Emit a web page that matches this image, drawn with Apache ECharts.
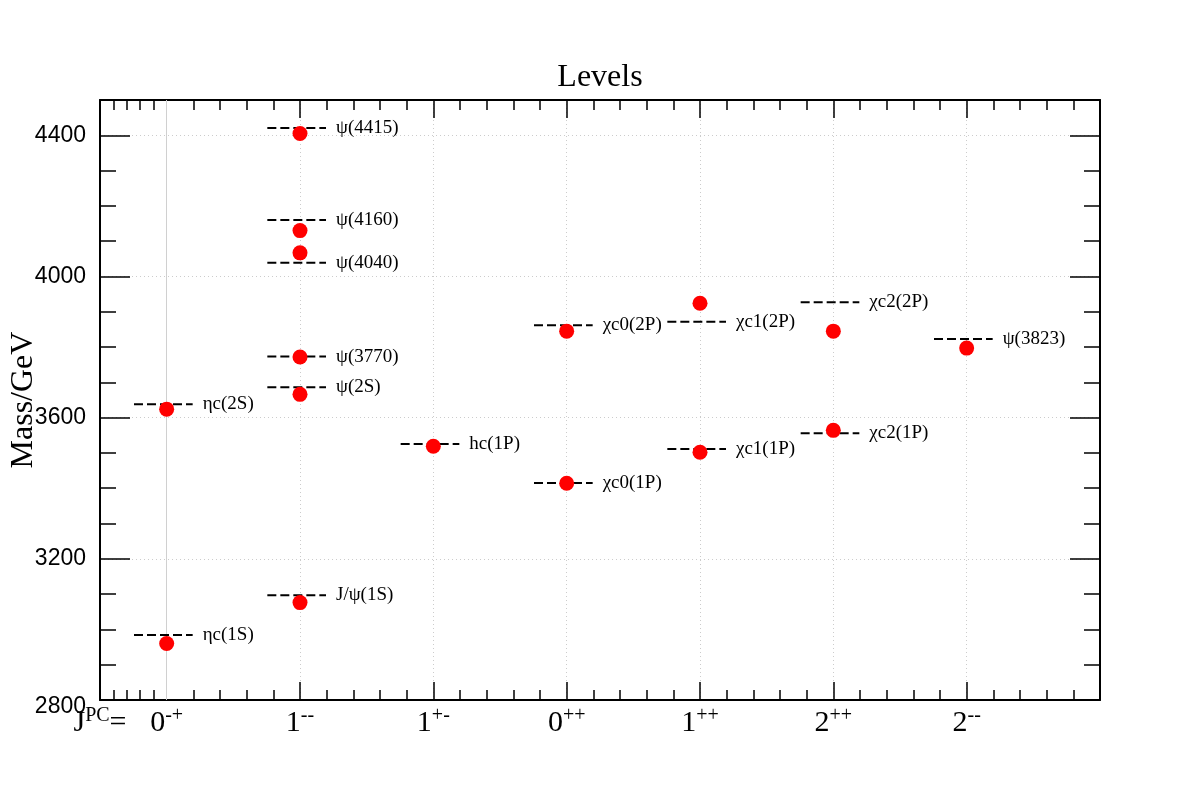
<!DOCTYPE html>
<html>
<head>
<meta charset="utf-8">
<script src="https://cdn.jsdelivr.net/npm/echarts@6/dist/echarts.min.js"></script>
<style>
html,body{margin:0;padding:0;background:#fff;}
#chart{width:1200px;height:800px;}
</style>
</head>
<body>
<div id="chart"></div>
<script>
// ---- data ----
const jpcDigit = ['0','1','1','0','1','2','2'];
const jpcSup   = ['-+','--','+-','++','++','++','--'];
const levelNames = ['ηc(1S)','ηc(2S)','J/ψ(1S)','ψ(2S)','ψ(3770)','ψ(4040)','ψ(4160)','ψ(4415)','hc(1P)','χc0(1P)','χc0(2P)','χc1(1P)','χc1(2P)','χc2(1P)','χc2(2P)','ψ(3823)'];
const levelJpc   = [0,0,1,1,1,1,1,1,2,3,3,4,4,5,5,6];
const expMass    = [2984,3638,3097,3686,3773,4039,4160,4421,3525,3415,3862,3511,3872,3556,3927,3823];
const predMass   = [2960,3624,3076,3666,3772,4067,4130,4405,3519,3414,3845,3502,3924,3564,3845,3797];
// tick positions
const xMajorTicks = [1,2,3,4,5,6];
const xLabelTicks = [-0.5,0,1,2,3,4,5,6];
const xMinorTicks = [-0.4,-0.3,-0.2,-0.1,0.2,0.4,0.6,0.8,1.2,1.4,1.6,1.8,2.2,2.4,2.6,2.8,3.2,3.4,3.6,3.8,4.2,4.4,4.6,4.8,5.2,5.4,5.6,5.8,6.2,6.4,6.6,6.8];
const yMajorTicks = [2800,3200,3600,4000,4400];
const yMinorTicks = [2900,3000,3100,3300,3400,3500,3700,3800,3900,4100,4200,4300];

const SERIF = '"Liberation Serif", "DejaVu Serif", serif';
const SANS = '"Liberation Sans", Arial, sans-serif';

const chart = echarts.init(document.getElementById('chart'), null, {renderer:'canvas'});

const gridLine = {show:true, lineStyle:{color:'#cccccc', width:1, type:[1,3]}};
const blackAxis = {show:true, onZero:false, lineStyle:{color:'#000', width:2}};
const noAxis = {show:false, onZero:false};

function xAx(pos, ticks, len, opts){
  return Object.assign({
    type:'value', min:-0.5, max:7, position:pos, gridIndex:0,
    axisLine: blackAxis,
    axisTick:{show:true, inside:true, length:len, customValues:ticks, lineStyle:{color:'#000', width:1.5}},
    axisLabel:{show:false},
    splitLine:{show:false}
  }, opts||{});
}
function yAx(pos, ticks, len, opts){
  return Object.assign({
    type:'value', min:2800, max:4500, position:pos, gridIndex:0,
    axisLine: blackAxis,
    axisTick:{show:true, inside:true, length:len, customValues:ticks, lineStyle:{color:'#000', width:1.5}},
    axisLabel:{show:false},
    splitLine:{show:false}
  }, opts||{});
}

const option = {
  backgroundColor:'#ffffff',
  animation:false,
  title:{
    text:'Levels', left:'center', top:57,
    textStyle:{fontFamily:SERIF, fontSize:32, fontWeight:'normal', color:'#000'}
  },
  grid:{left:100, top:100, width:1000, height:600, containLabel:false, outerBoundsMode:'none'},
  xAxis:[
    xAx('bottom', xMajorTicks, 18, {
      splitLine: gridLine,
      axisLabel:{
        show:true, customValues:xLabelTicks, margin:6,
        formatter:function(v){
          if (v < -0.25) return '{n|J}{s|PC}{n|=}';
          const i = Math.round(v);
          return '{n|' + jpcDigit[i] + '}{s|' + jpcSup[i] + '}';
        },
        rich:{
          n:{fontFamily:SERIF, fontSize:30, lineHeight:34, color:'#000'},
          s:{fontFamily:SERIF, fontSize:20, lineHeight:14, verticalAlign:'top', color:'#000'}
        }
      }
    }),
    xAx('bottom', xMinorTicks, 10, {axisLine:noAxis}),
    xAx('top', xMajorTicks, 18),
    xAx('top', xMinorTicks, 10, {axisLine:noAxis})
  ],
  yAxis:[
    yAx('left', yMajorTicks, 30, {
      splitLine: gridLine,
      name:'Mass/GeV', nameLocation:'middle', nameGap:60, nameRotate:90, nameMoveOverlap:false,
      nameTextStyle:{fontFamily:SERIF, fontSize:32, color:'#000'},
      axisLabel:{
        show:true, customValues:yMajorTicks, margin:14,
        formatter:function(v){ return v === 2800 ? '{d|' + v + '}' : '{a|' + v + '}'; },
        rich:{
          a:{fontFamily:SANS, fontSize:23, color:'#000'},
          d:{fontFamily:SANS, fontSize:23, color:'#000', padding:[14,0,0,0]}
        }
      }
    }),
    yAx('left', yMinorTicks, 16, {axisLine:noAxis}),
    yAx('right', yMajorTicks, 30),
    yAx('right', yMinorTicks, 16, {axisLine:noAxis})
  ],
  series:[
    {
      type:'custom', xAxisIndex:0, yAxisIndex:0, z:3,
      data: levelNames.map(function(n,i){ return [levelJpc[i], expMass[i], i]; }),
      renderItem:function(params, api){
        const x = api.value(0), m = api.value(1), idx = api.value(2);
        const p1 = api.coord([x-0.245, m]);
        const p2 = api.coord([x+0.195, m]);
        const pt = api.coord([x+0.27, m]);
        return {type:'group', children:[
          {type:'line', shape:{x1:p1[0], y1:p1[1], x2:p2[0], y2:p2[1]},
           style:{stroke:'#000', lineWidth:2, lineDash:[9,4]}},
          {type:'text', x:pt[0], y:pt[1],
           style:{text:levelNames[idx], font:'19px ' + SERIF, fill:'#000', align:'left', verticalAlign:'middle'}}
        ]};
      }
    },
    {
      type:'scatter', xAxisIndex:0, yAxisIndex:0, z:4,
      symbol:'circle', symbolSize:15,
      itemStyle:{color:'#ff0000', opacity:1},
      data: predMass.map(function(m,i){ return [levelJpc[i], m]; }),
      markLine:{
        silent:true, symbol:'none', label:{show:false}, z:1,
        lineStyle:{color:'#d0d0d0', type:'solid', width:1},
        data:[{xAxis:0}]
      }
    }
  ]
};
chart.setOption(option);
</script>
</body>
</html>
